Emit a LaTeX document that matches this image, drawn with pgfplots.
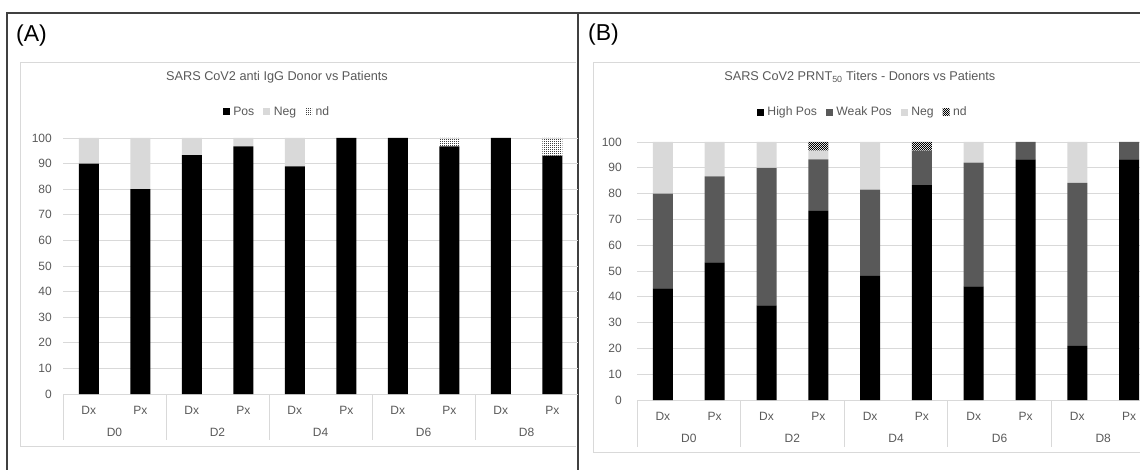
\documentclass[border=0pt]{standalone}
\usepackage{fontspec}
\setmainfont{Liberation Sans}
\usepackage{pgfplots}
\pgfplotsset{compat=1.18}
\usetikzlibrary{patterns}
\definecolor{txt}{HTML}{595959}
\definecolor{gridc}{HTML}{D9D9D9}
\definecolor{weak}{HTML}{595959}
\definecolor{negc}{HTML}{D9D9D9}
\definecolor{framec}{HTML}{404040}
\newcommand{\tickfont}{\fontsize{12bp}{14bp}\selectfont}
\newcommand{\legfont}{\fontsize{12.2bp}{14bp}\selectfont}
\newcommand{\titfont}{\fontsize{12.7bp}{15bp}\selectfont}

\pgfdeclarepatternformonly{smallcheck}{\pgfqpoint{0pt}{0pt}}{\pgfqpoint{2.4pt}{2.4pt}}{\pgfqpoint{2.4pt}{2.4pt}}{%
  \pgfpathrectangle{\pgfqpoint{0pt}{0pt}}{\pgfqpoint{1.2pt}{1.2pt}}%
  \pgfpathrectangle{\pgfqpoint{1.2pt}{1.2pt}}{\pgfqpoint{1.2pt}{1.2pt}}%
  \pgfusepath{fill}}
\pgfdeclarepatternformonly{finedots}{\pgfqpoint{0pt}{0pt}}{\pgfqpoint{1.6pt}{1.6pt}}{\pgfqpoint{1.6pt}{1.6pt}}{%
  \pgfpathrectangle{\pgfqpoint{0pt}{0pt}}{\pgfqpoint{1pt}{1pt}}%
  \pgfusepath{fill}}

\pgfplotsset{
 common/.style={
  scale only axis, ybar stacked, bar width=20bp,
  ymin=0, ymax=100, ytick={0,10,...,100},
  xmin=-0.5, xtick={0,...,9},
  xticklabels={Dx,Px,Dx,Px,Dx,Px,Dx,Px,Dx,Px},
  ymajorgrids, grid style={gridc, line width=0.8bp},
  axis line style={draw=none}, major tick length=0pt,
  tick label style={font=\tickfont, text=txt},
  /pgf/number format/assume math mode=true,
  xticklabel style={anchor=base, yshift=-20bp, inner sep=0pt},
  yticklabel style={anchor=east, inner sep=0pt},
  clip=false,
  legend columns=-1,
  legend style={draw=none, fill=none, anchor=center, font=\legfont, text=txt,
    /tikz/every even column/.append style={column sep=7bp},
    /tikz/every odd column/.append style={column sep=1.5bp}},
  legend image code/.code={\path[##1] (0bp,-3.5bp) rectangle (7bp,3.5bp);},
  title style={font=\titfont, text=txt, anchor=center},
 }
}

\begin{document}
\begin{tikzpicture}
\useasboundingbox (0,0) rectangle (1140bp,470bp);
% frames
\draw[gridc, line width=1bp] (576bp,407bp) -- (20bp,407bp) -- (20bp,23bp) -- (576bp,23bp);
\draw[gridc, line width=1bp] (1140bp,407bp) -- (593bp,407bp) -- (593bp,17bp) -- (1140bp,17bp);
\draw[framec, line width=1.5bp] (7bp,0) -- (7bp,457bp) -- (1140bp,457bp);
\draw[framec, line width=1.5bp] (578bp,0) -- (578bp,457bp);
\node[anchor=west, inner sep=0pt, font=\fontsize{23bp}{26bp}\selectfont] at (16bp,434bp) {(A)};
\node[anchor=west, inner sep=0pt, font=\fontsize{23bp}{26bp}\selectfont] at (588bp,435bp) {(B)};

% Panel A
\begin{axis}[common,
  at={(63bp,76bp)}, anchor=south west,
  width=515bp, height=256bp, xmax=9.5,
  yticklabel style={xshift=-11bp},
  title={SARS CoV2 anti IgG Donor vs Patients},
  title style={at={(0.4155,1.215)}},
  legend style={at={(0.4155,1.1016)}},
]
\addplot[fill=black, draw=none] coordinates {(0,90) (1,80) (2,93.3) (3,96.7) (4,88.9) (5,100) (6,100) (7,96.7) (8,100) (9,93.1)};
\addplot[fill=negc, draw=none] coordinates {(0,10) (1,20) (2,6.7) (3,3.3) (4,11.1) (5,0) (6,0) (7,0) (8,0) (9,0)};
\addplot[pattern=finedots, pattern color=black!75, draw=none] coordinates {(0,0) (1,0) (2,0) (3,0) (4,0) (5,0) (6,0) (7,3.3) (8,0) (9,6.9)};
\legend{Pos,Neg,nd}
\pgfplotsinvokeforeach{-0.5,1.5,3.5,5.5,7.5}{\draw[gridc, line width=0.8bp] (axis cs:#1,0) -- ([yshift=-46bp]axis cs:#1,0);}
\node[anchor=base, text=txt, font=\tickfont] at ([yshift=-42bp]axis cs:0.5,0) {D0};
\node[anchor=base, text=txt, font=\tickfont] at ([yshift=-42bp]axis cs:2.5,0) {D2};
\node[anchor=base, text=txt, font=\tickfont] at ([yshift=-42bp]axis cs:4.5,0) {D4};
\node[anchor=base, text=txt, font=\tickfont] at ([yshift=-42bp]axis cs:6.5,0) {D6};
\node[anchor=base, text=txt, font=\tickfont] at ([yshift=-42bp]axis cs:8.5,0) {D8};
\end{axis}

% Panel B
\begin{axis}[common,
  at={(637bp,70bp)}, anchor=south west,
  width=503bp, height=258bp, xmax=9.21,
  yticklabel style={xshift=-15bp},
  title={SARS CoV2 PRNT\textsubscript{50} Titers - Donors vs Patients},
  title style={at={(0.443,1.229)}},
  legend style={at={(0.449,1.116)}},
]
\addplot[fill=black, draw=none] coordinates {(0,43.3) (1,53.3) (2,36.7) (3,73.3) (4,48.1) (5,83.3) (6,44) (7,93.3) (8,21) (9,93.3)};
\addplot[fill=weak, draw=none] coordinates {(0,36.7) (1,33.4) (2,53.3) (3,20) (4,33.4) (5,13.4) (6,48) (7,6.7) (8,63.2) (9,6.7)};
\addplot[fill=negc, draw=none] coordinates {(0,20) (1,13.3) (2,10) (3,3.4) (4,18.5) (5,0) (6,8) (7,0) (8,15.8) (9,0)};
\addplot[pattern=smallcheck, pattern color=black, draw=none] coordinates {(0,0) (1,0) (2,0) (3,3.3) (4,0) (5,3.3) (6,0) (7,0) (8,0) (9,0)};
\legend{High Pos,Weak Pos,Neg,nd}
\pgfplotsinvokeforeach{-0.5,1.5,3.5,5.5,7.5}{\draw[gridc, line width=0.8bp] (axis cs:#1,0) -- ([yshift=-47bp]axis cs:#1,0);}
\node[anchor=base, text=txt, font=\tickfont] at ([yshift=-42bp]axis cs:0.5,0) {D0};
\node[anchor=base, text=txt, font=\tickfont] at ([yshift=-42bp]axis cs:2.5,0) {D2};
\node[anchor=base, text=txt, font=\tickfont] at ([yshift=-42bp]axis cs:4.5,0) {D4};
\node[anchor=base, text=txt, font=\tickfont] at ([yshift=-42bp]axis cs:6.5,0) {D6};
\node[anchor=base, text=txt, font=\tickfont] at ([yshift=-42bp]axis cs:8.5,0) {D8};
\end{axis}
\end{tikzpicture}
\end{document}
